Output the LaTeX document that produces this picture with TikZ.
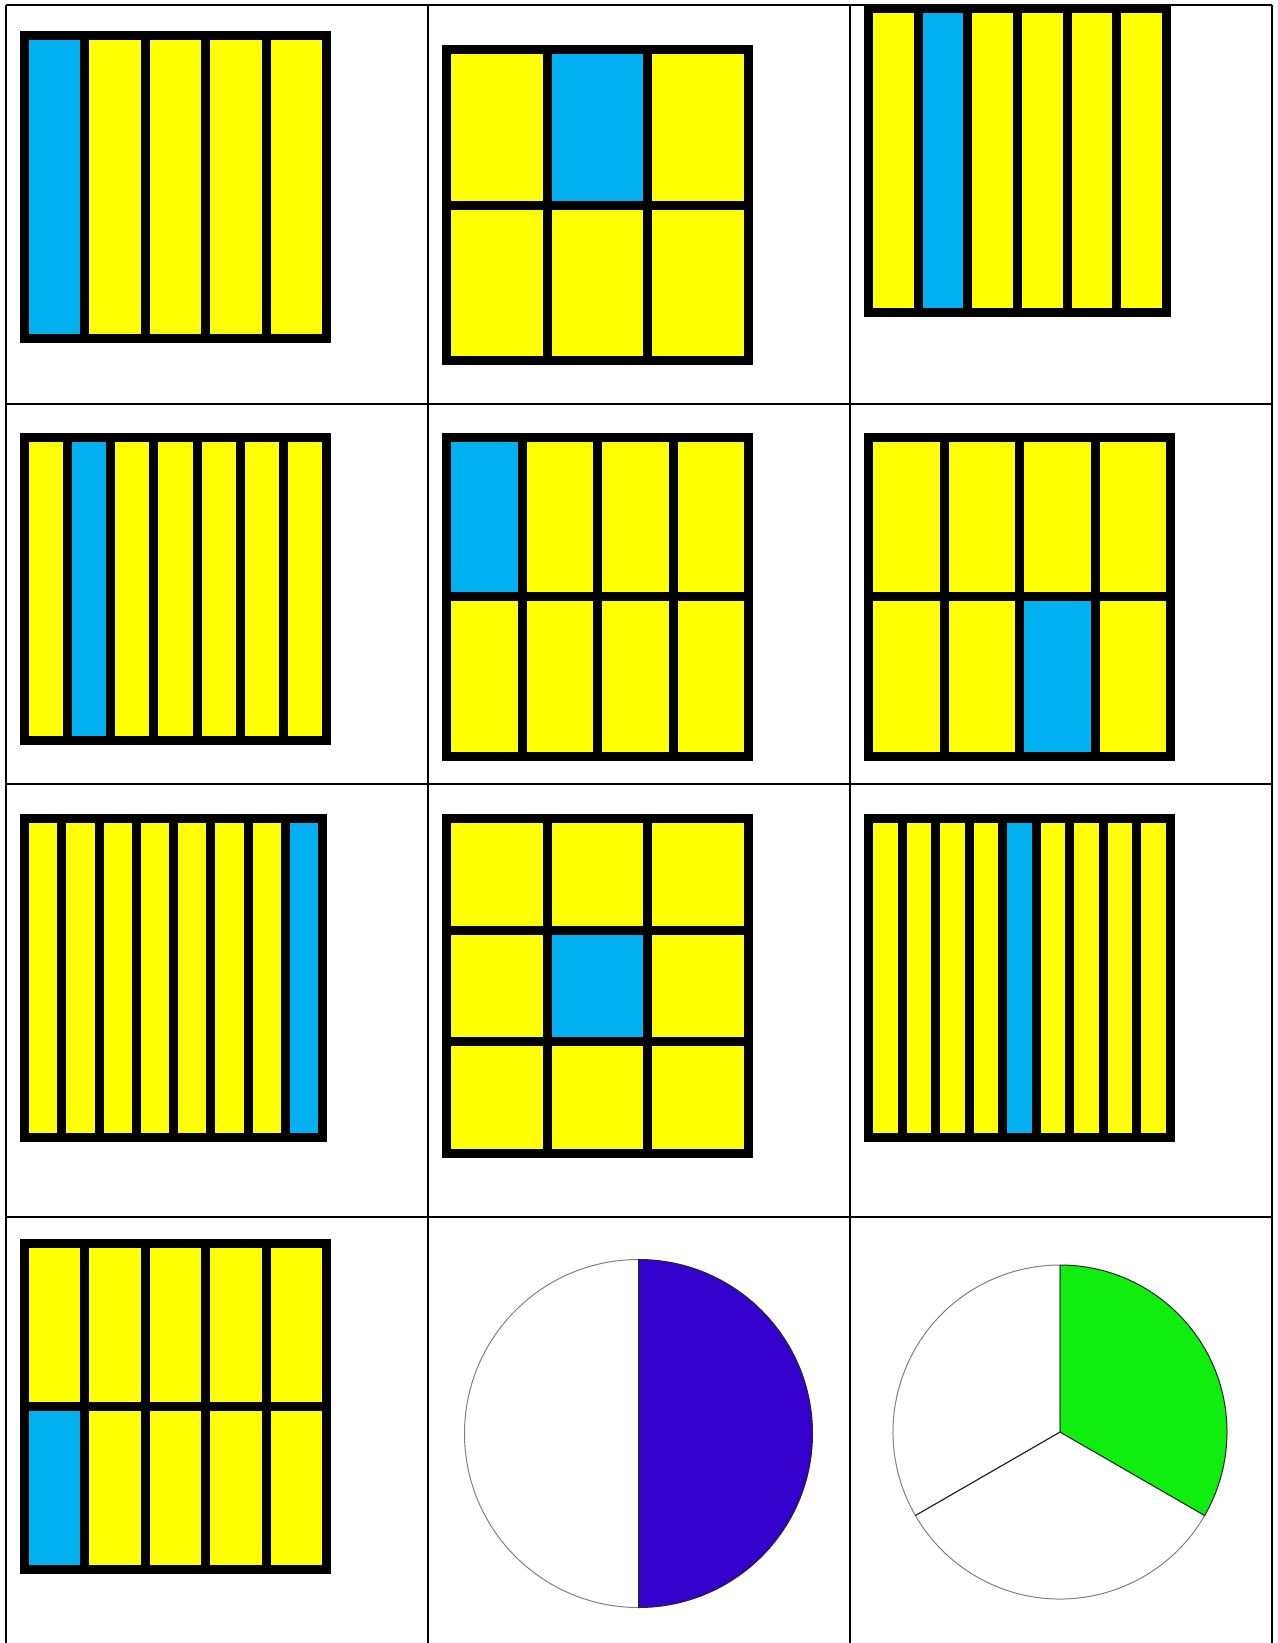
\documentclass[tikz,border=0pt]{standalone}

\definecolor{barblue}{RGB}{0,176,240}
\definecolor{baryellow}{RGB}{255,255,0}
\definecolor{halfpurple}{RGB}{51,0,204}
\definecolor{thirdgreen}{RGB}{16,238,16}

% fraction box: corners (#1,#2) (#3,#4), #5 columns, #6 rows, shaded cell (#7,#8)
\newcommand{\fractionbox}[8]{%
  \pgfmathsetmacro{\cellwd}{(#3-#1)/#5}
  \pgfmathsetmacro{\cellht}{(#4-#2)/#6}
  \fill[baryellow] (#1,#2) rectangle (#3,#4);
  \fill[barblue] ({#1+(#7-1)*\cellwd},{#2+(#8-1)*\cellht}) rectangle ++(\cellwd,\cellht);
  \foreach \i in {0,...,#5} \draw[partline] ({#1+\i*\cellwd},#2) -- ({#1+\i*\cellwd},#4);
  \foreach \j in {0,...,#6} \draw[partline] (#1,{#2+\j*\cellht}) -- (#3,{#2+\j*\cellht});
  \draw[partline] (#1,#2) rectangle (#3,#4);
}

\begin{document}
\begin{tikzpicture}[x=1pt, y=-1pt]

	% Styles
	\tikzstyle{partline} = [draw=black, line width=9pt]
	\tikzstyle{tableline} = [draw=black, line width=1.4pt]
	\tikzstyle{pieline} = [draw=black!50, line width=1pt]
	\tikzstyle{sectorline} = [draw=black!85, line width=1pt]

	\useasboundingbox (0,0) rectangle (1277,1643);

	% Table
	\foreach \x in {6,428,850,1272} \draw[tableline] (\x,5) -- (\x,1643);
	\foreach \y in {5,404,784,1217} \draw[tableline] (6,\y) -- (1272,\y);

	% Row 1
	\fractionbox{24.5}{35.5}{326.5}{338.5}{5}{1}{1}{1}
	\fractionbox{446.5}{49.5}{748.5}{360.5}{3}{2}{2}{1}
	\fractionbox{868.5}{8.5}{1166.5}{312.5}{6}{1}{2}{1}

	% Row 2
	\fractionbox{24.5}{437.5}{326.5}{740}{7}{1}{2}{1}
	\fractionbox{446.5}{437.5}{748.5}{756.2}{4}{2}{1}{1}
	\fractionbox{868.5}{437.5}{1170.5}{756.2}{4}{2}{3}{2}

	% Row 3
	\fractionbox{24.5}{818.5}{322.5}{1137}{8}{1}{8}{1}
	\fractionbox{446.5}{818.5}{748.5}{1153.2}{3}{3}{2}{2}
	\fractionbox{868.5}{818.5}{1170.5}{1137}{9}{1}{5}{1}

	% Row 4
	\fractionbox{24.5}{1243.5}{326.5}{1569}{5}{2}{1}{2}

	% Half pie
	\coordinate (halfc) at (638.5,1433.5);
	\filldraw[fill=white, pieline] (halfc) -- ++(90:174) arc[start angle=90, end angle=270, radius=174] -- cycle;
	\filldraw[fill=halfpurple, sectorline] (halfc) -- ++(-90:174) arc[start angle=-90, end angle=90, radius=174] -- cycle;

	% Third pie
	\coordinate (thirdc) at (1060,1432);
	\filldraw[fill=white, pieline] (thirdc) -- ++(30:167) arc[start angle=30, end angle=150, radius=167] -- cycle;
	\filldraw[fill=white, pieline] (thirdc) -- ++(150:167) arc[start angle=150, end angle=270, radius=167] -- cycle;
	\filldraw[fill=thirdgreen, sectorline] (thirdc) -- ++(-90:167) arc[start angle=-90, end angle=30, radius=167] -- cycle;
	\draw[sectorline] (thirdc) -- ++(150:167);

\end{tikzpicture}
\end{document}
